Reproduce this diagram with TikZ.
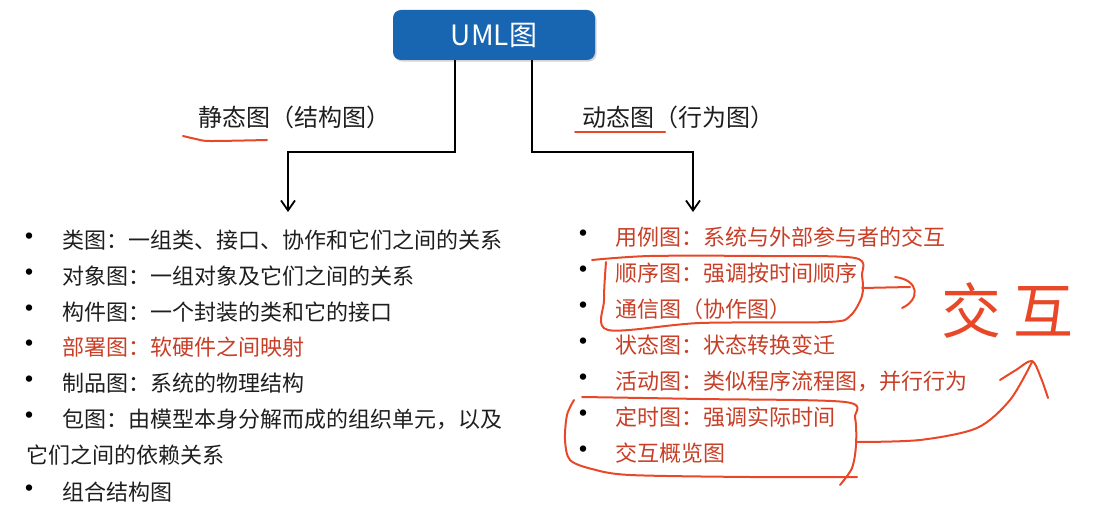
\documentclass[tikz,border=0pt]{standalone}
\usepackage{fontspec}
\setmainfont{Noto Sans CJK SC}
\usetikzlibrary{arrows.meta, positioning, calc, shadows}

\definecolor{umlblue}{RGB}{24,102,178}
\definecolor{slidered}{RGB}{200,62,38}
\definecolor{penred}{RGB}{232,72,40}
\definecolor{txtgray}{RGB}{30,30,30}

\begin{document}
\begin{tikzpicture}[x=0.5pt, y=0.5pt,
  title/.style={rectangle,fill=umlblue,rounded corners=4pt,minimum width=101pt,minimum height=25pt,
    text=white,font=\fontsize{14}{16}\selectfont,drop shadow={opacity=0.35,shadow xshift=0.8pt,shadow yshift=-0.8pt}},
  branch/.style={font=\fontsize{12}{14}\selectfont,text=txtgray,inner sep=0pt},
  item/.style={anchor=west,font=\fontsize{11}{13}\selectfont,text=txtgray,inner sep=0pt},
  itemred/.style={item,text=slidered},
  dot/.style={font=\fontsize{15}{15}\selectfont,text=black,inner sep=0pt},
  flow/.style={-{Straight Barb[length=5pt,width=7pt]},line width=0.9pt,black},
  hand/.style={penred,line width=1pt,line cap=round,line join=round},
  pen/.style={text=penred,font=\fontsize{30}{30}\selectfont,inner sep=0pt}
]
  \useasboundingbox (0,0) rectangle (1118,-528);

  % top box and the two branches
  \node[title] (uml) at (494,-35) {UML图};
  \node[branch] (sta) at (294,-117) {静态图（结构图）};
  \node[branch] (dyn) at (678,-117) {动态图（行为图）};
  \coordinate (stalist) at (288,-212);
  \coordinate (dynlist) at (693,-212);
  \draw[flow] ([xshift=-19.5pt]uml.south) -- ++(0,-92) -| (stalist);
  \draw[flow] ([xshift=19pt]uml.south) -- ++(0,-92) -| (dynlist);

  % static diagrams
  \foreach \y/\n in {240/1,276/2,312/3,347/4,383/5,419/6,492/7}
    \node[dot] (sb\n) at (29,-\y) {•};
  \node[item] (s1) at (62,-240) {类图：一组类、接口、协作和它们之间的关系};
  \node[item] (s2) at (62,-276) {对象图：一组对象及它们之间的关系};
  \node[item] (s3) at (62,-312) {构件图：一个封装的类和它的接口};
  \node[itemred] (s4) at (62,-347) {部署图：软硬件之间映射};
  \node[item] (s5) at (62,-383) {制品图：系统的物理结构};
  \node[item] (s6) at (62,-419) {包图：由模型本身分解而成的组织单元，以及};
  \node[item] (s6b) at (26,-455) {它们之间的依赖关系};
  \node[item] (s7) at (62,-492) {组合结构图};

  % dynamic diagrams
  \foreach \y/\n in {237/1,273/2,309/3,345/4,381/5,417/6,453/7}
    \node[dot] (db\n) at (583,-\y) {•};
  \node[itemred] (d1) at (615,-237) {用例图：系统与外部参与者的交互};
  \node[itemred] (d2) at (615,-273) {顺序图：强调按时间顺序};
  \node[itemred] (d3) at (615,-309) {通信图（协作图）};
  \node[itemred] (d4) at (615,-345) {状态图：状态转换变迁};
  \node[itemred] (d5) at (615,-381) {活动图：类似程序流程图，并行行为};
  \node[itemred] (d6) at (615,-417) {定时图：强调实际时间};
  \node[itemred] (d7) at (615,-453) {交互概览图};

  % pen marks
  \node[pen] (jh) at (1007,-310) {交\hspace{6pt}互};
  \draw[hand] plot[smooth] coordinates {(183,-136) (196,-139) (210,-141) (267,-140)};
  \draw[hand] (575,-132) -- (665,-132);
  \draw[hand] plot[smooth] coordinates {(592,-260) (650,-256) (760,-256) (855,-258) (862,-276)
    (862,-296) (850,-316) (828,-322) (700,-323) (608,-330) (604,-300) (606,-262)};
  \draw[hand] (862,-288) -- (910,-287);
  \draw[hand] (895,-277) .. controls (920,-280) and (920,-300) .. (902,-308);
  \draw[hand] plot[smooth] coordinates {(582,-397) (700,-399) (845,-402) (855,-418) (856,-445)
    (852,-468) (840,-485)};
  \draw[hand] plot[smooth] coordinates {(857,-477) (750,-477) (630,-475) (592,-469) (570,-460)
    (565,-440) (567,-415) (574,-400)};
  \draw[hand] plot[smooth] coordinates {(857,-442) (920,-440) (977,-428) (1010,-400) (1032,-362)};
  \draw[hand] plot[smooth] coordinates {(1000,-380) (1016,-370) (1032,-361) (1041,-378) (1048,-398)};
\end{tikzpicture}
\end{document}
